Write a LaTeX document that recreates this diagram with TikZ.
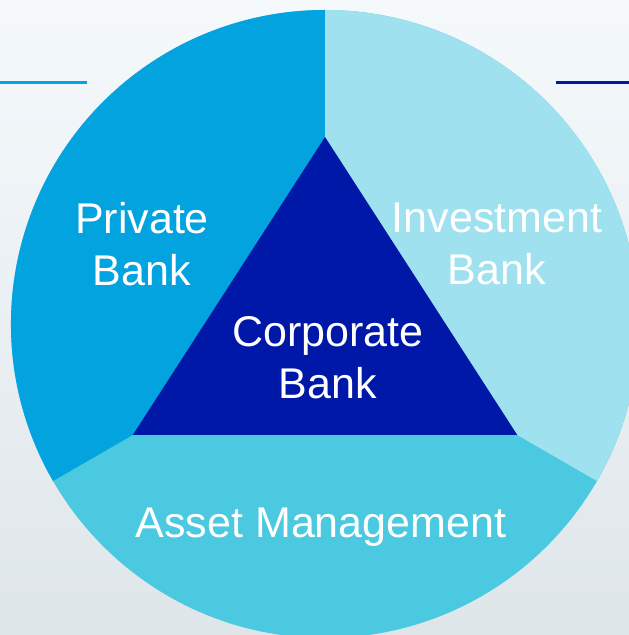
\documentclass[tikz,border=0pt]{standalone}
\usepackage{fontspec}
\setmainfont{Liberation Sans}
\usepackage{tikz}
\usetikzlibrary{calc}

\definecolor{privateblue}{HTML}{03A3E0}
\definecolor{investblue}{HTML}{A0E1EF}
\definecolor{assetblue}{HTML}{4BC9E1}
\definecolor{corpblue}{HTML}{0018A8}
\definecolor{bgtop}{HTML}{F5F9FC}
\definecolor{bgbottom}{HTML}{DFE6EA}

\begin{document}
\begin{tikzpicture}[x=1pt, y=1pt,
        unit text/.style={text=white, align=center, inner sep=0pt,
            font=\fontsize{43}{52}\selectfont}]
        \clip (0,0) rectangle (629,635);
        \fill[top color=bgtop, bottom color=bgbottom] (0,0) rectangle (629,635);

        % circle and the three spokes
        \def\rad{314}
        \coordinate (O) at (325,311);
        \coordinate (T) at ($(O)+(90:\rad)$);
        \coordinate (L) at ($(O)+(210:\rad)$);
        \coordinate (R) at ($(O)+(330:\rad)$);

        % corners of the triangle
        \coordinate (A) at ($(O)+(90:187)$);
        \coordinate (B) at ($(O)+(210:222)$);
        \coordinate (C) at ($(O)+(330:222)$);

        \fill[assetblue] (O) circle[radius=\rad];
        \fill[privateblue] (T) -- (A) -- (B) -- (L) arc[start angle=210, end angle=90, radius=\rad] -- cycle;
        \fill[investblue] (T) -- (A) -- (C) -- (R) arc[start angle=-30, end angle=90, radius=\rad] -- cycle;
        \fill[corpblue] (A) -- (B) -- (C) -- cycle;

        \node[unit text] (private) at (142,391) {Private\\Bank};
        \node[unit text] (investment) at (497,391) {Investment\\Bank};
        \node[unit text] (corporate) at (328,277.5) {Corporate\\Bank};
        \node[unit text, anchor=base] (asset) at (321,97) {Asset Management};

        % short rules at the sides
        \coordinate (l1) at (0,552);
        \coordinate (l2) at (87,552);
        \coordinate (r1) at (556,552);
        \coordinate (r2) at (629,552);
        \draw[privateblue, line width=3] (l1) -- (l2);
        \draw[corpblue, line width=3] (r1) -- (r2);
\end{tikzpicture}
\end{document}
